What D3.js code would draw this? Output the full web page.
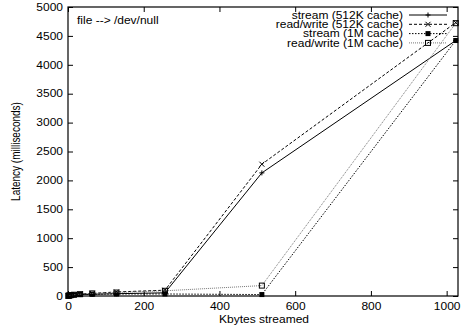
<!DOCTYPE html>
<html>
<head>
<meta charset="utf-8">
<script src="https://cdn.jsdelivr.net/npm/d3@7"></script>
<style>
  body { margin: 0; background: #fff; }
  text { font-family: "Liberation Sans", Arial, sans-serif; font-size: 10px; fill: #000; }
</style>
</head>
<body>
<div id="chart"></div>
<script>
// data
var kbytes = [1, 2, 4, 8, 16, 32, 64, 128, 256, 512, 1024];
var stream512 = [3, 5, 8, 12, 18, 25, 30, 40, 55, 2130, 4420];
var rw512 = [4, 6, 10, 15, 25, 35, 45, 70, 100, 2280, 4730];
var stream1M = [3, 5, 8, 12, 18, 25, 30, 35, 35, 25, 4420];
var rw1M = [4, 6, 10, 15, 22, 32, 45, 60, 90, 180, 4720];
var seriesNames = ["stream (512K cache)", "read/write (512K cache)", "stream (1M cache)", "read/write (1M cache)"];
var xTicks = [0, 200, 400, 600, 800, 1000];
var yTicks = [0, 500, 1000, 1500, 2000, 2500, 3000, 3500, 4000, 4500, 5000];

var width = 461, height = 327;
var margin = {top: 7, right: 3, bottom: 31, left: 68};
var sx = 1.2; // the original text is a bit wider than tall

var svg = d3.select('#chart').append('svg').attr('width', width).attr('height', height);

var x = d3.scaleLinear().domain([0, 1030]).range([margin.left, width - margin.right]);
var y = d3.scaleLinear().domain([0, 5000]).range([height - margin.bottom, margin.top]);

var series = [
  {name: seriesNames[0], values: stream512, dash: null, color: '#000', marker: 'plus'},
  {name: seriesNames[1], values: rw512, dash: '3,2', color: '#000', marker: 'cross'},
  {name: seriesNames[2], values: stream1M, dash: '1.5,1.5', color: '#000', marker: 'fsquare'},
  {name: seriesNames[3], values: rw1M, dash: '1,1', color: '#777', marker: 'osquare'}
];

function label(px, py, str, anchor) {
  return svg.append('text').attr('transform', 'translate(' + px + ',' + py + ') scale(' + sx + ',1)')
    .attr('text-anchor', anchor || 'start').text(str);
}

// axes (gnuplot style, ticks inside and mirrored)
var tl = 5;
var gx = svg.append('g').attr('transform', 'translate(0,' + (height - margin.bottom) + ')')
  .call(d3.axisBottom(x).tickValues(xTicks).tickSizeInner(-tl).tickSizeOuter(0).tickPadding(7).tickFormat(d3.format('d')));
var gxt = svg.append('g').attr('transform', 'translate(0,' + margin.top + ')')
  .call(d3.axisTop(x).tickValues(xTicks).tickSizeInner(-tl).tickSizeOuter(0).tickFormat(''));
var gy = svg.append('g').attr('transform', 'translate(' + margin.left + ',0)')
  .call(d3.axisLeft(y).tickValues(yTicks).tickSizeInner(-tl).tickSizeOuter(0).tickPadding(5).tickFormat(d3.format('d')));
var gyr = svg.append('g').attr('transform', 'translate(' + (width - margin.right) + ',0)')
  .call(d3.axisRight(y).tickValues(yTicks).tickSizeInner(-tl).tickSizeOuter(0).tickFormat(''));
[gx, gxt, gy, gyr].forEach(function (g) {
  g.select('.domain').remove();
  g.selectAll('line').attr('stroke', '#000');
  g.selectAll('text').style('font-family', '"Liberation Sans", Arial, sans-serif').style('font-size', '10px')
    .attr('fill', '#000').attr('transform', 'scale(' + sx + ',1)');
});
gy.selectAll('text').attr('x', -5 / sx);

svg.append('rect')
  .attr('x', margin.left).attr('y', margin.top)
  .attr('width', width - margin.right - margin.left)
  .attr('height', height - margin.bottom - margin.top)
  .attr('fill', 'none').attr('stroke', '#000').attr('stroke-width', 1.2);

function drawMarker(g, type, cx, cy) {
  var s = 2.5;
  if (type == 'plus') {
    g.append('path').attr('d', 'M' + (cx - s) + ',' + cy + 'H' + (cx + s) + 'M' + cx + ',' + (cy - s) + 'V' + (cy + s))
      .attr('stroke', '#000').attr('fill', 'none');
  } else if (type == 'cross') {
    g.append('path').attr('d', 'M' + (cx - s) + ',' + (cy - s) + 'L' + (cx + s) + ',' + (cy + s) + 'M' + (cx - s) + ',' + (cy + s) + 'L' + (cx + s) + ',' + (cy - s))
      .attr('stroke', '#000').attr('fill', 'none');
  } else if (type == 'fsquare') {
    g.append('rect').attr('x', cx - s).attr('y', cy - s).attr('width', 2 * s).attr('height', 2 * s).attr('fill', '#000');
  } else {
    g.append('rect').attr('x', cx - s).attr('y', cy - s).attr('width', 2 * s).attr('height', 2 * s)
      .attr('fill', 'none').attr('stroke', '#000');
  }
}

var line = d3.line().x(function (d) { return x(d[0]); }).y(function (d) { return y(d[1]); });

series.forEach(function (s) {
  var pts = kbytes.map(function (k, i) { return [k, s.values[i]]; });
  svg.append('path').datum(pts).attr('d', line)
    .attr('fill', 'none').attr('stroke', s.color).attr('stroke-width', 1)
    .attr('stroke-dasharray', s.dash);
  var gm = svg.append('g');
  pts.forEach(function (p) { drawMarker(gm, s.marker, x(p[0]), y(p[1])); });
});

// legend
var leg = svg.append('g');
series.forEach(function (s, i) {
  var ly = 15 + i * 9.3;
  label(403, ly + 3.6, s.name, 'end');
  leg.append('line').attr('x1', 409).attr('x2', 447).attr('y1', ly).attr('y2', ly)
    .attr('stroke', s.color).attr('stroke-dasharray', s.dash);
  drawMarker(leg, s.marker, 428, ly);
});

label(77, 23.5, 'file --> /dev/null');
label(264, 323, 'Kbytes streamed', 'middle');
svg.append('text').attr('transform', 'translate(20,' + ((margin.top + height - margin.bottom) / 2) + ') rotate(-90) scale(1,' + sx + ')')
  .attr('text-anchor', 'middle').text('Latency (milliseconds)');
</script>
</body>
</html>
